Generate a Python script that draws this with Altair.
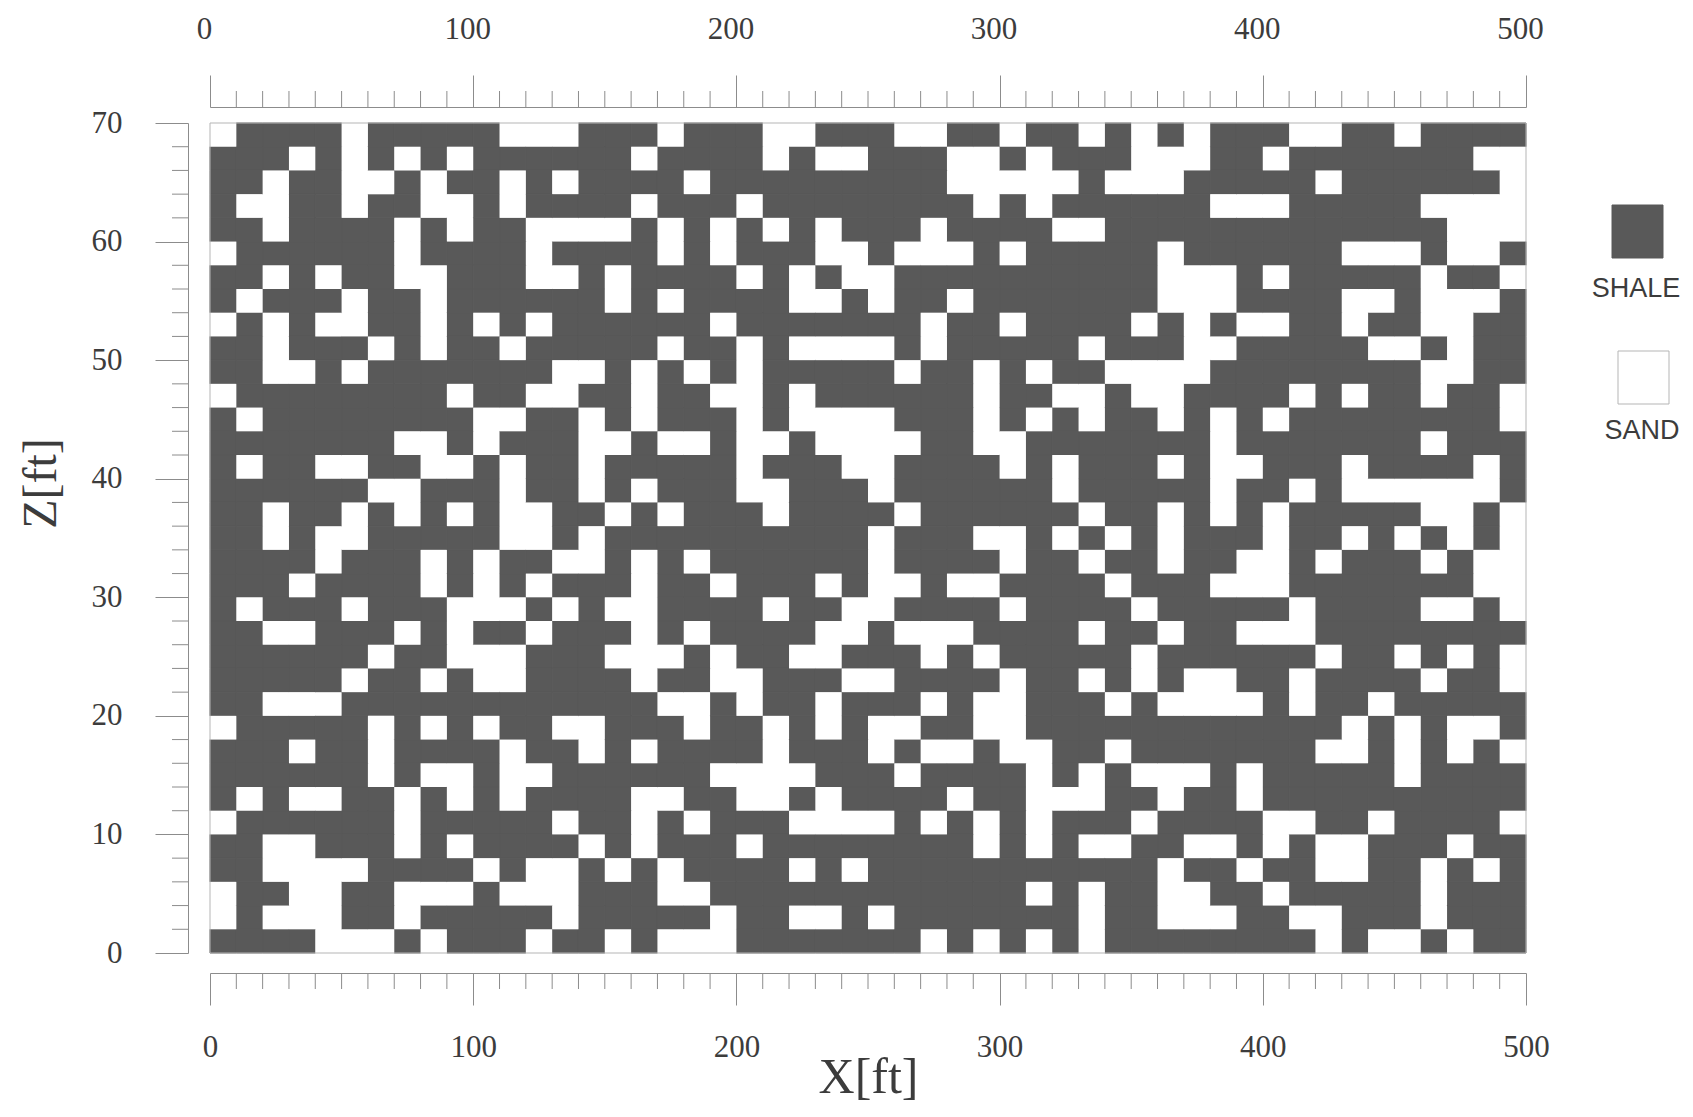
import altair as alt
import pandas as pd

# Columns holding SAND in each row, top row (Z 68-70 ft) first. Everything else is SHALE.
sand_columns = [
    [0, 5, 11, 12, 13, 17, 21, 22, 26, 27, 30, 33, 35, 37, 41, 42, 45],
    [3, 5, 7, 9, 16, 21, 23, 24, 28, 29, 31, 35, 36, 37, 40, 48, 49],
    [2, 5, 6, 8, 11, 13, 18, 28, 29, 30, 31, 32, 34, 35, 36, 42, 49],
    [1, 2, 5, 8, 9, 11, 16, 20, 29, 31, 38, 39, 40, 46, 47, 48, 49],
    [2, 7, 9, 12, 13, 14, 15, 17, 19, 21, 23, 27, 32, 33, 47, 48, 49],
    [0, 7, 12, 17, 19, 23, 24, 26, 27, 28, 30, 36, 43, 44, 45, 47, 48],
    [2, 4, 7, 8, 12, 13, 15, 20, 22, 24, 25, 36, 37, 38, 40, 46, 49],
    [1, 5, 8, 15, 17, 22, 23, 25, 28, 36, 37, 38, 43, 44, 46, 47, 48],
    [0, 2, 4, 5, 8, 10, 12, 19, 27, 30, 35, 37, 39, 40, 43, 46, 47],
    [2, 6, 8, 11, 17, 20, 22, 23, 24, 25, 27, 33, 37, 38, 44, 45, 47],
    [2, 3, 5, 13, 14, 16, 18, 20, 26, 29, 31, 34, 35, 36, 37, 46, 47],
    [0, 9, 12, 13, 16, 19, 20, 22, 29, 32, 33, 35, 36, 41, 43, 46, 49],
    [1, 10, 11, 14, 16, 20, 22, 23, 24, 25, 29, 31, 33, 36, 38, 40, 49],
    [7, 8, 10, 14, 15, 17, 18, 20, 21, 23, 24, 25, 26, 29, 30, 38, 46],
    [1, 4, 5, 8, 9, 11, 14, 20, 24, 25, 30, 32, 36, 38, 39, 43, 48],
    [6, 7, 11, 14, 16, 20, 21, 25, 32, 38, 41, 43, 44, 45, 46, 47, 48],
    [2, 5, 7, 9, 11, 12, 15, 17, 21, 26, 33, 36, 38, 40, 46, 47, 49],
    [2, 4, 5, 11, 12, 14, 25, 29, 30, 32, 34, 36, 40, 43, 45, 47, 49],
    [4, 8, 10, 13, 14, 16, 18, 25, 30, 33, 36, 39, 40, 42, 46, 48, 49],
    [3, 8, 10, 12, 16, 19, 23, 25, 26, 28, 29, 34, 38, 39, 40, 48, 49],
    [1, 5, 9, 10, 11, 13, 15, 16, 21, 24, 25, 30, 35, 41, 46, 47, 49],
    [2, 3, 7, 9, 12, 16, 18, 23, 24, 26, 27, 28, 33, 36, 39, 40, 41],
    [6, 9, 10, 11, 15, 16, 17, 19, 22, 23, 27, 29, 35, 42, 45, 47, 49],
    [5, 8, 10, 11, 16, 19, 20, 24, 25, 30, 33, 35, 37, 38, 41, 46, 49],
    [2, 3, 4, 17, 18, 20, 23, 27, 29, 30, 34, 36, 37, 38, 39, 41, 44],
    [0, 6, 8, 10, 13, 14, 18, 21, 23, 25, 26, 29, 30, 43, 45, 47, 48],
    [3, 6, 11, 14, 16, 21, 25, 27, 28, 30, 31, 34, 42, 43, 45, 47, 49],
    [6, 8, 9, 11, 12, 19, 20, 21, 22, 26, 31, 33, 35, 36, 37, 39, 45],
    [1, 3, 4, 7, 9, 11, 16, 17, 20, 21, 23, 28, 31, 32, 33, 36, 39],
    [0, 7, 13, 16, 18, 22, 23, 24, 25, 27, 29, 31, 35, 40, 41, 44, 49],
    [2, 3, 7, 9, 14, 16, 20, 29, 31, 33, 34, 37, 38, 40, 42, 43, 47],
    [2, 3, 4, 5, 10, 12, 13, 15, 17, 22, 24, 36, 39, 42, 43, 46, 48],
    [0, 3, 4, 7, 8, 9, 11, 12, 13, 17, 18, 31, 33, 36, 37, 40, 46],
    [0, 2, 3, 4, 7, 13, 19, 22, 23, 25, 33, 36, 37, 38, 41, 42, 46],
    [4, 5, 6, 8, 12, 15, 17, 18, 19, 27, 29, 31, 33, 42, 44, 45, 47],
]
x_major = [0, 100, 200, 300, 400, 500]
z_major = [0, 10, 20, 30, 40, 50, 60, 70]
x_minor = [v for v in range(0, 501, 10) if v % 100]
z_minor = [v for v in range(0, 71, 2) if v % 10]
legend_labels = ["SHALE", "SAND"]

SHALE = "#595959"
AXIS = "#8c8c8c"
TEXT = "#3c3c3c"
SERIF = "Liberation Serif"
W, H = 1316, 830

records = []
for r, sand in enumerate(sand_columns):
    for c in range(50):
        records.append({"x": c * 10, "x2": c * 10 + 10,
                        "z": 70 - 2 * r - 2, "z2": 70 - 2 * r,
                        "lith": "SAND" if c in sand else "SHALE"})
cells = pd.DataFrame(records)

xs = alt.Scale(domain=[0, 500], nice=False, zero=False)
zs = alt.Scale(domain=[0, 70], nice=False, zero=False)

common = dict(grid=False, domainColor=AXIS, tickColor=AXIS, labelColor=TEXT,
              labelFont=SERIF, labelFontSize=31, titleFont=SERIF,
              titleFontWeight="normal", titleColor=TEXT)

bottom_axis = alt.Axis(orient="bottom", values=x_major, offset=20, tickSize=32,
                       labelPadding=27, title="X[ft]", titleFontSize=50,
                       titlePadding=-10, labelFlush=False, format="d", **common)
top_axis = alt.Axis(orient="top", values=x_major, offset=16, tickSize=32,
                    labelPadding=30, labelOffset=-6, title=None,
                    labelFlush=False, format="d", **common)
left_axis = alt.Axis(orient="left", values=z_major, offset=22, tickSize=33,
                     labelPadding=33, title="Z[ft]", titleFontSize=48,
                     titlePadding=26, titleY=360, labelFlush=False, format="d", **common)

shale = alt.Chart(cells[cells.lith == "SHALE"]).mark_rect(
    color=SHALE, stroke=SHALE, strokeWidth=1
).encode(
    x=alt.X("x:Q", scale=xs, axis=bottom_axis),
    x2="x2:Q",
    y=alt.Y("z:Q", scale=zs, axis=left_axis),
    y2="z2:Q",
)
sand = alt.Chart(cells[cells.lith == "SAND"]).mark_rect(color="#ffffff").encode(
    x=alt.X("x:Q", scale=xs, axis=top_axis),
    x2="x2:Q",
    y=alt.Y("z:Q", scale=zs, axis=None),
    y2="z2:Q",
)
frame = alt.Chart(pd.DataFrame({"x": [0], "x2": [500], "z": [0], "z2": [70]})).mark_rect(
    fillOpacity=0, stroke="#b5b5b5", strokeWidth=1
).encode(
    x=alt.X("x:Q", scale=xs, axis=None), x2="x2:Q",
    y=alt.Y("z:Q", scale=zs, axis=None), y2="z2:Q",
)

def minor_x(y_from, y_to):
    return alt.Chart(pd.DataFrame({"t": x_minor})).mark_rule(color=AXIS, strokeWidth=1).encode(
        x=alt.X("t:Q", scale=xs, axis=None),
        y=alt.value(y_from), y2=alt.value(y_to),
    )

minor_top = minor_x(-16, -32)
minor_bottom = minor_x(H + 20, H + 36)
minor_left = alt.Chart(pd.DataFrame({"t": z_minor})).mark_rule(color=AXIS, strokeWidth=1).encode(
    y=alt.Y("t:Q", scale=zs, axis=None),
    x=alt.value(-22), x2=alt.value(-38),
)

def swatch(label, x0, y0, fill, stroke, label_dy):
    base = alt.Chart(pd.DataFrame({"label": [label]}))
    box = base.mark_rect(fill=fill, stroke=stroke, strokeWidth=1).encode(
        x=alt.value(x0), x2=alt.value(x0 + 51), y=alt.value(y0), y2=alt.value(y0 + 53),
    )
    text = base.mark_text(font="Liberation Sans", fontSize=27, color=TEXT,
                          align="center", baseline="middle").encode(
        x=alt.value(x0 + 24), y=alt.value(y0 + label_dy), text="label:N",
    )
    return box + text

legend_shale = swatch(legend_labels[0], 1402, 82, SHALE, SHALE, 84)
legend_sand = swatch(legend_labels[1], 1408, 228, "#ffffff", "#b5b5b5", 80)

chart = alt.layer(
    shale, sand, frame, minor_top, minor_bottom, minor_left, legend_shale, legend_sand
).resolve_axis(x="independent", y="independent").properties(
    width=W, height=H,
    autosize=alt.AutoSizeParams(type="none"),
    padding={"left": 202, "top": 115, "right": 159, "bottom": 154},
    background="#ffffff",
).configure_view(stroke=None)

chart.save("out.html", embed_options={"renderer": "svg", "actions": False})
